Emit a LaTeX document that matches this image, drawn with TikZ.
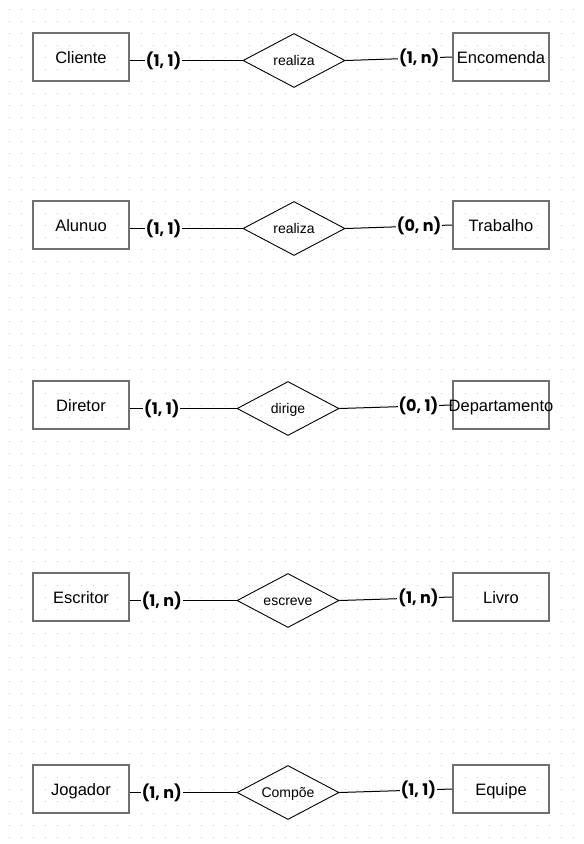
\documentclass[tikz,border=0pt]{standalone}
\usepackage{fontspec}
\setmainfont{Liberation Sans}
\newfontfamily\cardfont{Poppins}
\usetikzlibrary{shapes.geometric,calc}
\definecolor{boxgray}{HTML}{707070}
\definecolor{dotgray}{HTML}{C8C8C8}
\newcommand\zerow[1]{\makebox[0pt]{#1}}
\begin{document}
\begin{tikzpicture}[x=1pt,y=-1pt,
  entity/.style={draw=boxgray, line width=1.5pt, minimum width=96pt, minimum height=48pt, inner sep=0pt, text height=12pt, text depth=0pt, font=\fontsize{16.5}{18}\selectfont},
  rel/.style={draw, diamond, line width=0.9pt, minimum width=102pt, minimum height=54pt, inner sep=0pt, text height=10pt, text depth=0pt, font=\fontsize{14}{16}\selectfont},
  card/.style={fill=white, inner sep=1pt, font=\cardfont\bfseries\fontsize{16}{18}\selectfont},
  conn/.style={line width=1pt},
  dots/.style={dotgray, line width=1pt, dash pattern=on 1pt off 11pt}]
\fill[white] (0,0) rectangle (584,844);
\useasboundingbox (0,0) rectangle (584,844);
\foreach \j in {0,...,69} \draw[dots] (9,{9.5+12*\j}) -- (575,{9.5+12*\j});

% row 1
\node[entity] (cliente) at (81,57) {Cliente};
\node[rel] (r1) at (294,60.5) {\zerow{realiza}};
\node[entity] (encomenda) at (501,57) {Encomenda};
\draw[conn] (cliente.east |- r1.west) -- node[card,pos=0.3]{(1, 1)} (r1.west);
\draw[conn] (r1.east) -- node[card,pos=0.69]{(1, n)} (encomenda.west);

% row 2
\node[entity] (alunuo) at (81,225) {Alunuo};
\node[rel] (r2) at (294,228.5) {\zerow{realiza}};
\node[entity] (trabalho) at (501,225) {Trabalho};
\draw[conn] (alunuo.east |- r2.west) -- node[card,pos=0.3]{(1, 1)} (r2.west);
\draw[conn] (r2.east) -- node[card,pos=0.69]{(0, n)} (trabalho.west);

% row 3
\node[entity] (diretor) at (81,405) {Diretor};
\node[rel] (r3) at (288,408.5) {\zerow{dirige}};
\node[entity] (departamento) at (501,405) {\zerow{Departamento}};
\draw[conn] (diretor.east |- r3.west) -- node[card,pos=0.3]{(1, 1)} (r3.west);
\draw[conn] (r3.east) -- node[card,pos=0.70]{(0, 1)} (departamento.west);

% row 4
\node[entity] (escritor) at (81,597) {Escritor};
\node[rel] (r4) at (288,600.5) {\zerow{escreve}};
\node[entity] (livro) at (501,597) {Livro};
\draw[conn] (escritor.east |- r4.west) -- node[card,pos=0.3]{(1, n)} (r4.west);
\draw[conn] (r4.east) -- node[card,pos=0.70]{(1, n)} (livro.west);

% row 5
\node[entity] (jogador) at (81,789) {Jogador};
\node[rel] (r5) at (288,792.5) {\zerow{Compõe}};
\node[entity] (equipe) at (501,789) {Equipe};
\draw[conn] (jogador.east |- r5.west) -- node[card,pos=0.3]{(1, n)} (r5.west);
\draw[conn] (r5.east) -- node[card,pos=0.70]{(1, 1)} (equipe.west);
\end{tikzpicture}
\end{document}
